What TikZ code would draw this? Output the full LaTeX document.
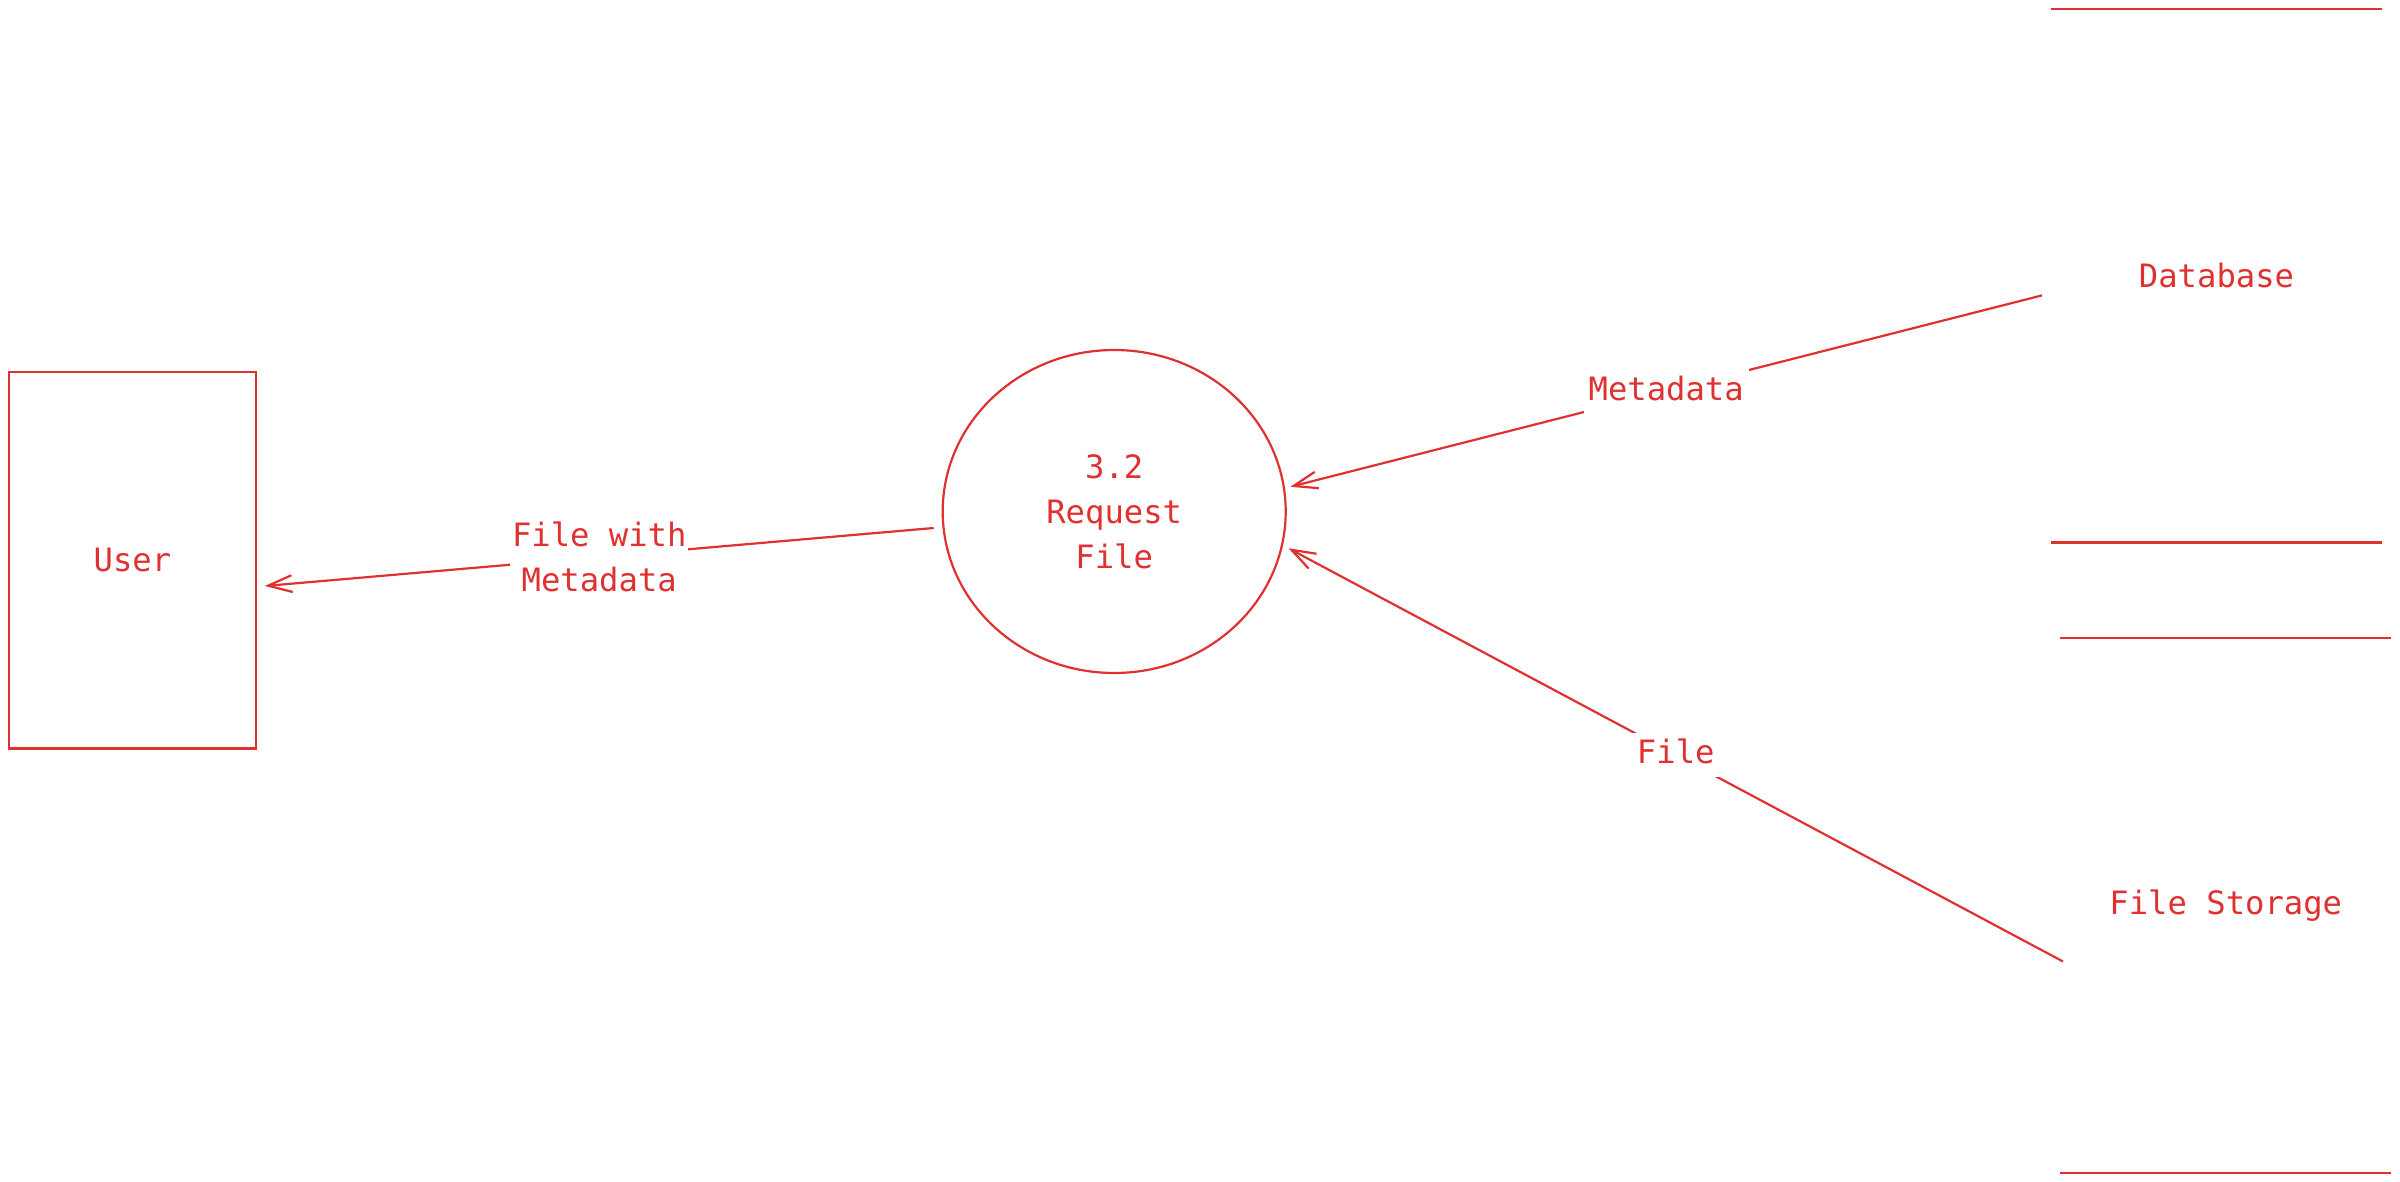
\documentclass[tikz,border=0pt]{standalone}
\usepackage{fontspec}
\setmonofont{DejaVu Sans Mono}
\usetikzlibrary{arrows.meta,shapes.geometric}
\definecolor{exred}{RGB}{224,49,49}
\begin{document}
\begin{tikzpicture}[x=0.5pt,y=-0.5pt,
  every node/.style={text=exred,font=\ttfamily\fontsize{16.1}{22.5}\selectfont},
  ln/.style={draw=exred,line width=1.1pt},
  entity/.style={ln,rectangle,minimum width=123.2pt,minimum height=188.25pt,inner sep=0pt},
  process/.style={ln,ellipse,minimum width=171.5pt,minimum height=161.5pt,align=center,inner sep=0pt},
  store/.style={rectangle,minimum width=165.5pt,minimum height=266.5pt,inner sep=0pt},
  flow/.style={ln,-{Straight Barb[length=12pt,width=8.4pt]}},
  lbl/.style={fill=white,align=center,inner xsep=2.5pt,inner ysep=3pt},
  onelbl/.style={lbl,text height=12.5pt,text depth=3.5pt}]
\fill[white] (0,0) rectangle (2400,1182);
\useasboundingbox (0,0) rectangle (2400,1182);

\node[entity] (user) at (132.4,560.2) {User};
\node[process] (proc) at (1114.2,511.5) {3.2\\Request\\File};
\node[store] (db) at (2216.5,275.6) {Database};
\node[store,minimum width=165.25pt,minimum height=267pt] (fs) at (2225.75,905.5) {File Storage};
\draw[ln] (db.north west) -- (db.north east) (db.south west) -- (db.south east);
\draw[ln] (fs.north west) -- (fs.north east) (fs.south west) -- (fs.south east);

\coordinate (f1s) at (933.7,528);
\coordinate (f1e) at (264.8,586);
\coordinate (f2s) at (2042,295.4);
\coordinate (f2e) at (1290.3,486.8);
\coordinate (f3s) at (2063,961.5);
\coordinate (f3e) at (1288.5,548.3);

\draw[flow] (f1s) -- node[lbl,inner xsep=1pt]{File with\\Metadata} (f1e);
\draw[flow] (f2s) -- node[onelbl]{Metadata} (f2e);
\draw[flow] (f3s) -- node[onelbl]{File} (f3e);
\end{tikzpicture}
\end{document}
